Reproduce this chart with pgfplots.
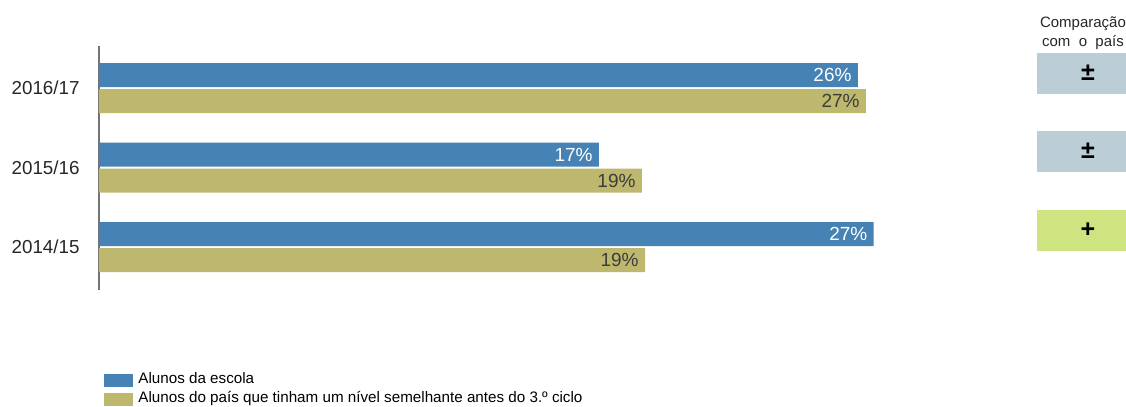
\documentclass[border=0pt]{standalone}
\usepackage{pgfplots}
\pgfplotsset{compat=1.18}
\usepackage{fontspec}
\setmainfont{Liberation Sans}
\definecolor{escola}{RGB}{70,130,180}
\definecolor{pais}{RGB}{190,184,110}
\definecolor{cmpgray}{RGB}{188,206,213}
\definecolor{cmpgreen}{RGB}{205,228,128}
\definecolor{lbl}{RGB}{60,60,60}
\begin{document}
\begin{tikzpicture}
\path[use as bounding box] (0,0) rectangle (563pt,-203.5pt);
\begin{axis}[
  at={(49.5pt,-23pt)}, anchor=north west,
  scale only axis, width=432pt, height=122pt,
  xmin=0, xmax=30, ymin=-0.54, ymax=2.53,
  xbar, bar width=12pt,
  axis x line=none, axis y line*=left,
  y axis line style={draw=black!55, line width=0.8pt},
  ytick={0,1,2}, yticklabels={2014/15,2015/16,2016/17},
  major tick length=0pt,
  yticklabel style={font=\fontsize{9.4}{11}\selectfont, text=black!85, inner sep=0pt, xshift=-9.5pt},
  clip=false,
  point meta=explicit symbolic,
  nodes near coords={\pgfplotspointmeta\%},
  nodes near coords style={anchor=east, inner sep=0pt, xshift=-3pt, font=\fontsize{9.5}{11}\selectfont},
  legend style={at={(axis description cs:0.0058,-0.336)}, anchor=north west, draw=none, fill=none,
    font=\fontsize{7.6}{8.8}\selectfont, inner sep=0pt, nodes={inner sep=0pt}, column sep=2.5pt, row sep=2.5pt},
  legend cell align=left,
  legend image code/.code={\fill[#1] (0pt,-3.6pt) rectangle (14.5pt,2.9pt);},
]
\addplot[fill=escola, draw=none, bar shift=6.5pt, nodes near coords style={text=white}] table[meta=lab] {
x y lab
26.35 2 26
17.36 1 17
26.90 0 27
};
\addplot[fill=pais, draw=none, bar shift=-6.5pt, nodes near coords style={text=lbl}] table[meta=lab] {
x y lab
26.63 2 27
18.85 1 19
18.96 0 19
};
\legend{Alunos da escola, Alunos do país que tinham um nível semelhante antes do 3.º ciclo}
\end{axis}
\node[font=\fontsize{7.5}{9.5}\selectfont, align=center, text=black!85] at (541.5pt,-16.75pt) {Comparação\\com\ \ o\ \ país};
\fill[cmpgray] (518.5pt,-26.5pt) rectangle (563pt,-47pt);
\node[font=\bfseries\fontsize{12.5}{14}\selectfont] at (544pt,-36.5pt) {±};
\fill[cmpgray] (518.5pt,-65.5pt) rectangle (563pt,-86pt);
\node[font=\bfseries\fontsize{12.5}{14}\selectfont] at (544pt,-75.5pt) {±};
\fill[cmpgreen] (518.5pt,-105pt) rectangle (563pt,-125.5pt);
\node[font=\bfseries\fontsize{12.5}{14}\selectfont] at (544pt,-115pt) {+};
\end{tikzpicture}
\end{document}
